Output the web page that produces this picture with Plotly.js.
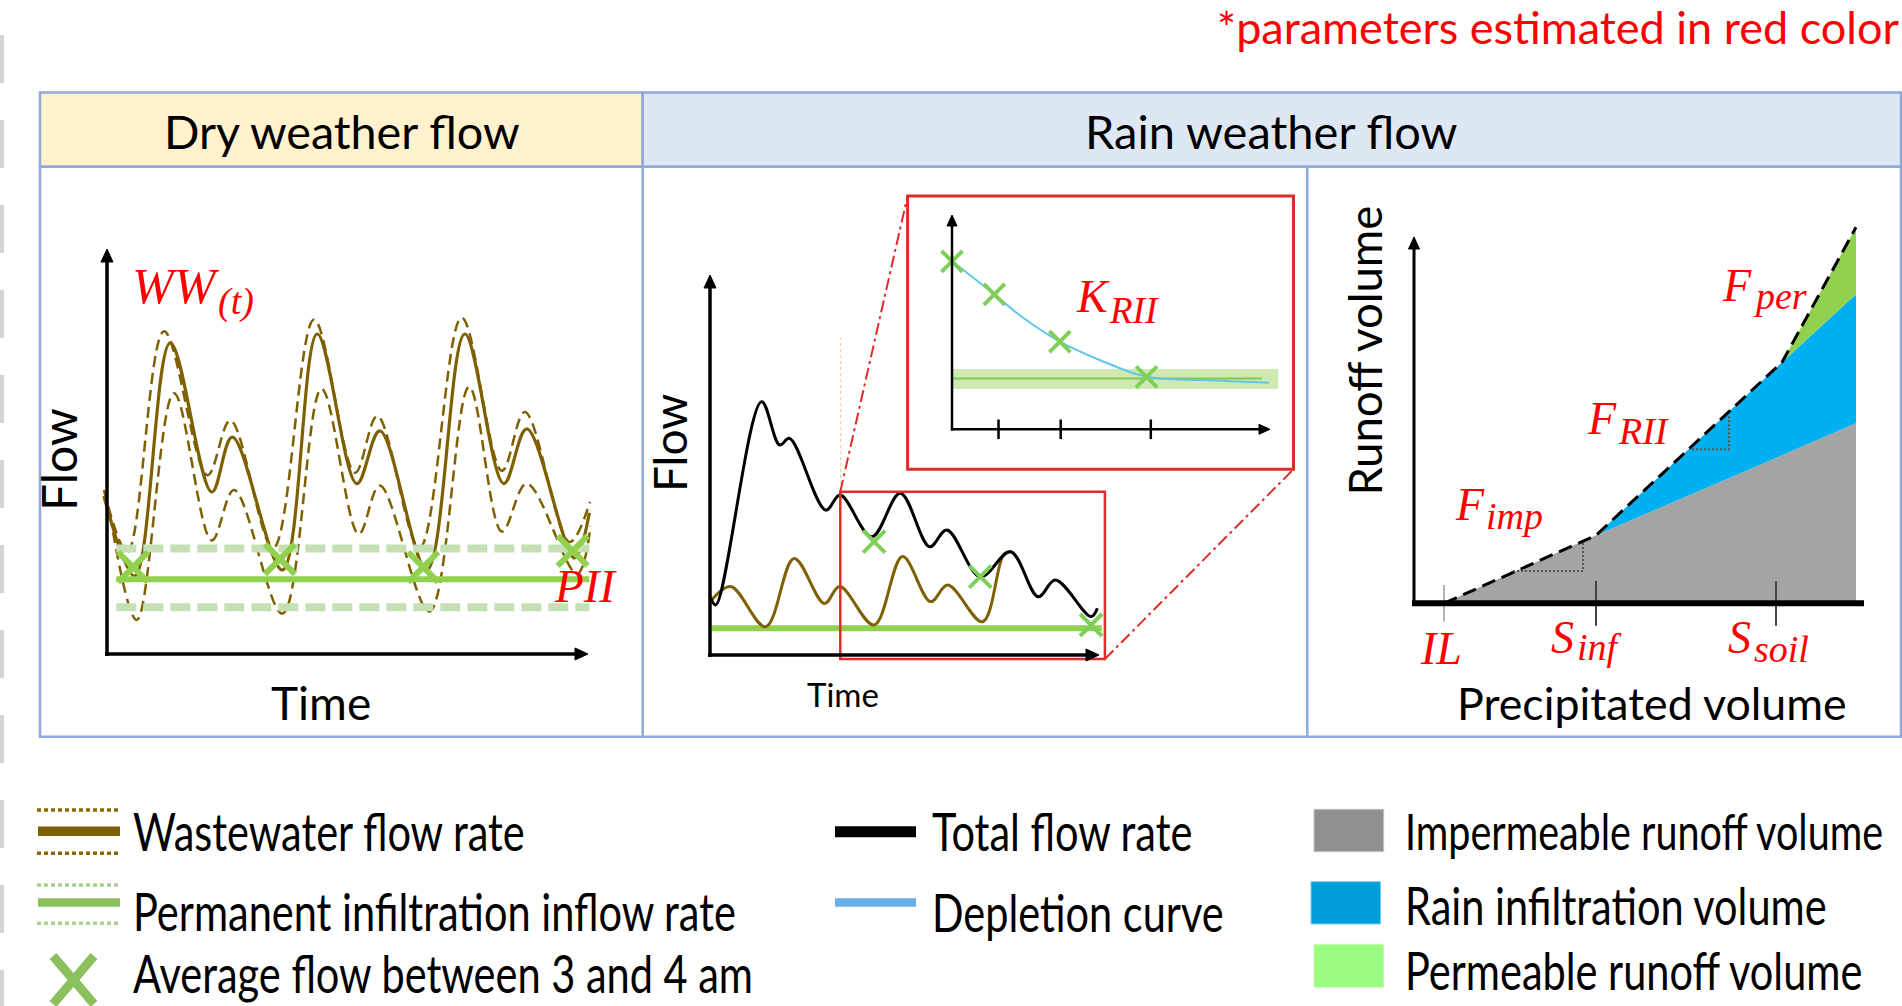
<!DOCTYPE html>
<html><head><meta charset="utf-8">
<script src="https://cdn.plot.ly/plotly-3.0.1.min.js"></script>
<style>html,body{margin:0;padding:0;background:#fff;overflow:hidden}#chart{width:1902px;height:1006px}</style>
</head><body><div id="chart"></div>
<script>
// ================= DATA =================
// Panel 1 - dry weather flow (time in hours, flow in arbitrary units)
const dryTime      = [-0.5, 4.5, 10.2, 16.9, 20.2, 28.3, 33.9, 40.3, 44.0, 51.6, 57.7, 64.0, 67.7, 75.4, 77.8];
const dryFlow      = [39.5, 19.5, 77.8, 40.5, 54.2, 21.0, 80.0, 42.6, 55.8, 21.0, 80.0, 42.6, 56.3, 24.0, 35.3];
const dryTimeHigh  = [-0.5, 3.3, 9.2, 16.2, 19.9, 26.8, 33.4, 40.0, 43.6, 50.4, 57.2, 63.7, 67.4, 74.6, 77.9];
const dryFlowHigh  = [41.0, 25.5, 80.7, 44.7, 58.4, 26.5, 83.6, 45.3, 59.5, 26.5, 84.1, 45.8, 60.5, 28.0, 38.0];
const dryTimeLow   = [0.5, 4.8, 10.8, 16.9, 20.5, 28.3, 34.6, 40.6, 44.0, 52.0, 58.4, 63.7, 67.7, 75.8, 78.0];
const dryFlowLow   = [34.7, 8.5, 65.2, 28.4, 41.0, 10.1, 66.3, 30.0, 42.1, 10.6, 66.8, 30.6, 42.6, 20.0, 32.0];
const piiSpan      = [1.5, 77.8];
const piiLevel     = 18.7;
const piiBand      = [11.7, 26.4];
const nightTime    = [4.2, 27.9, 51.0, 75.1];
const nightFlow    = [21.7, 23.7, 21.7, 25.8];

// Panel 2 - rain weather flow hydrograph (time in hours)
const rainTime     = [0, 1.3, 11.4, 15.4, 17.6, 25.6, 28.8, 35.8, 42.1, 48.6, 52.4, 59.8, 66.5, 72.6, 76.4, 84.3, 85.7];
const totalFlow    = [19.4, 16.7, 84.4, 70.0, 72.2, 48.3, 53.3, 39.4, 53.9, 36.1, 41.7, 26.1, 34.4, 19.4, 25.0, 12.8, 15.6];
const wwRainTime   = [0.35, 4.6, 12.3, 18.6, 25.3, 28.7, 36.3, 42.6, 48.8, 52.6, 60.3, 65.0, 66.5];
const wwRainFlow   = [18.3, 22.8, 9.4, 32.2, 17.2, 22.8, 10.0, 32.8, 17.8, 23.3, 11.1, 33.6, 34.4];
const rainNightTime = [36.3, 59.8, 84.3];
const rainNightFlow = [37.8, 26.1, 10.0];
const rainPiiSpan  = [0.35, 86.7];
const rainPii      = 8.9;
const recessionStart = 28.9;
const recessionFlowSpan = [55, 105.7];

// Inset - depletion curve (time in days)
const depletionTime = [0, 1.0, 1.65, 2.55, 3.49, 4.6, 5.95, 7.49];
const depletionFlow = [56.0, 45.0, 37.5, 29.2, 23.1, 17.5, 16.4, 15.5];
const insetNightTime = [0, 1.0, 2.55, 4.6];
const insetNightFlow = [56.0, 45.0, 29.2, 17.5];
const insetTicks    = [1.1, 2.57, 4.7];
const insetPii      = 16.9;
const insetPiiSpan  = [0, 7.33];
const insetBand     = [13.4, 20.1];
const insetBandSpan = [0, 7.71];

// Panel 3 - runoff volume vs precipitated volume
const precip        = [3.0, 18.2, 36.8, 44.2];
const runoffImp     = [0, 6.8, 14.8, 18.0];
const runoffImpRii  = [0, 6.8, 24.1, 30.9];
const runoffTotal   = [0, 6.8, 24.1, 37.6];
const paramNames    = ['IL', 'Sinf', 'Ssoil'];
const paramPrecip   = [3.0, 18.2, 36.2];
const slopeImpX     = [9.9, 16.9, 16.9];
const slopeImpY     = [3.24, 3.24, 6.08];
const slopeRiiX     = [27.8, 31.5, 31.5];
const slopeRiiY     = [15.4, 15.4, 18.9];

// Legend labels
const legendCol1 = ['Wastewater flow rate', 'Permanent infiltration inflow rate', 'Average flow between 3 and 4 am'];
const legendCol2 = ['Total flow rate', 'Depletion curve'];
const legendCol3 = ['Impermeable runoff volume', 'Rain infiltration volume', 'Permeable runoff volume'];

// ================= LAYOUT HELPERS =================
const W = 1902, H = 1006;
const PX = x => x / W, PY = y => 1 - y / H;
function xAx(a, b, origin, scale, anchor) {
  return {domain: [a / W, b / W], range: [(a - origin) / scale, (b - origin) / scale],
          visible: false, fixedrange: true, anchor: anchor};
}
function yAx(top, bottom, origin, scale, anchor) {
  return {domain: [1 - bottom / H, 1 - top / H], range: [(origin - bottom) / scale, (origin - top) / scale],
          visible: false, fixedrange: true, anchor: anchor};
}
function pline(x0, y0, x1, y1, color, width, dash, layer) {
  return {type: 'line', xref: 'paper', yref: 'paper', x0: PX(x0), y0: PY(y0), x1: PX(x1), y1: PY(y1),
          line: {color: color, width: width, dash: dash || 'solid'}, layer: layer || 'above'};
}
function prect(x0, y0, x1, y1, fill, color, width, layer) {
  return {type: 'rect', xref: 'paper', yref: 'paper', x0: PX(x0), y0: PY(y0), x1: PX(x1), y1: PY(y1),
          fillcolor: fill, line: {color: color || 'rgba(0,0,0,0)', width: width || 0}, layer: layer || 'below'};
}
function arrowShapes(tipX, tipY, tailX, tailY, width, hw, hl) {
  const dx = tipX - tailX, dy = tipY - tailY, len = Math.hypot(dx, dy);
  const ux = dx / len, uy = dy / len, nx = -uy, ny = ux;
  const bx = tipX - ux * hl, by = tipY - uy * hl;
  const f = v => v.toFixed(6);
  return [
    pline(tailX, tailY, tipX - ux * (hl - 2), tipY - uy * (hl - 2), '#000', width),
    {type: 'path', xref: 'paper', yref: 'paper', layer: 'above', fillcolor: '#000', line: {color: '#000', width: 1},
     path: 'M' + f(PX(tipX)) + ',' + f(PY(tipY)) + ' L' + f(PX(bx + nx * hw)) + ',' + f(PY(by + ny * hw)) +
           ' L' + f(PX(bx - nx * hw)) + ',' + f(PY(by - ny * hw)) + ' Z'}
  ];
}
const SANS = 'Lato, "Open Sans", sans-serif';
const SERIF = '"Liberation Serif", "DejaVu Serif", serif';
function label(text, x, y, size, o) {
  return Object.assign({xref: 'paper', yref: 'paper', x: PX(x), y: PY(y), text: text, showarrow: false,
    xanchor: 'center', yanchor: 'middle', font: {family: SANS, size: size, color: '#000'}}, o || {});
}
function mathLabel(text, x, y, size) {
  return {xref: 'paper', yref: 'paper', x: PX(x), y: PY(y), text: text, showarrow: false, borderpad: 0,
    xanchor: 'left', yanchor: 'middle', font: {family: SERIF, size: size, color: '#ff0000', style: 'italic'}};
}

const BROWN = '#7f6000', GREEN = '#92d050', LIGHTGREEN = '#c5e0b4', RED = '#e02b2b';
const base = {hoverinfo: 'skip', showlegend: false};

// ================= TRACES =================
const traces = [
  // ---- panel 1
  Object.assign({}, base, {x: dryTimeLow, y: dryFlowLow, mode: 'lines', xaxis: 'x', yaxis: 'y',
    line: {color: BROWN, width: 2.5, dash: '11px,6px', shape: 'spline', smoothing: 1}}),
  Object.assign({}, base, {x: dryTimeHigh, y: dryFlowHigh, mode: 'lines', xaxis: 'x', yaxis: 'y',
    line: {color: BROWN, width: 2.5, dash: '11px,6px', shape: 'spline', smoothing: 1}}),
  Object.assign({}, base, {x: dryTime, y: dryFlow, mode: 'lines', xaxis: 'x', yaxis: 'y',
    line: {color: BROWN, width: 3.2, shape: 'spline', smoothing: 1}}),
  Object.assign({}, base, {x: piiSpan, y: [piiBand[1], piiBand[1]], mode: 'lines', xaxis: 'x', yaxis: 'y',
    line: {color: LIGHTGREEN, width: 8, dash: '20px,7px'}}),
  Object.assign({}, base, {x: piiSpan, y: [piiBand[0], piiBand[0]], mode: 'lines', xaxis: 'x', yaxis: 'y',
    line: {color: LIGHTGREEN, width: 8, dash: '20px,7px'}}),
  Object.assign({}, base, {x: piiSpan, y: [piiLevel, piiLevel], mode: 'lines', xaxis: 'x', yaxis: 'y',
    line: {color: GREEN, width: 6}}),
  Object.assign({}, base, {x: nightTime, y: nightFlow, mode: 'markers', xaxis: 'x', yaxis: 'y', cliponaxis: false,
    marker: {symbol: 'x-thin', size: 30, line: {color: GREEN, width: 6}}}),

  // ---- panel 2
  Object.assign({}, base, {x: rainPiiSpan, y: [rainPii, rainPii], mode: 'lines', xaxis: 'x2', yaxis: 'y2',
    line: {color: GREEN, width: 6}}),
  Object.assign({}, base, {x: [recessionStart, recessionStart], y: recessionFlowSpan, mode: 'lines', xaxis: 'x2', yaxis: 'y2',
    line: {color: '#f3d6a4', width: 1.5, dash: 'dot'}}),
  Object.assign({}, base, {x: wwRainTime, y: wwRainFlow, mode: 'lines', xaxis: 'x2', yaxis: 'y2',
    line: {color: BROWN, width: 3, shape: 'spline', smoothing: 1}}),
  Object.assign({}, base, {x: rainTime, y: totalFlow, mode: 'lines', xaxis: 'x2', yaxis: 'y2',
    line: {color: '#000', width: 3, shape: 'spline', smoothing: 1}}),
  Object.assign({}, base, {x: rainNightTime, y: rainNightFlow, mode: 'markers', xaxis: 'x2', yaxis: 'y2', cliponaxis: false,
    marker: {symbol: 'x-thin', size: 22, line: {color: '#7fd05a', width: 4}}}),

  // ---- inset
  Object.assign({}, base, {x: insetBandSpan, y: [insetBand[0], insetBand[0]], mode: 'lines', xaxis: 'x3', yaxis: 'y3',
    line: {width: 0, color: 'rgba(0,0,0,0)'}}),
  Object.assign({}, base, {x: insetBandSpan, y: [insetBand[1], insetBand[1]], mode: 'lines', xaxis: 'x3', yaxis: 'y3',
    line: {width: 0, color: 'rgba(0,0,0,0)'}, fill: 'tonexty', fillcolor: 'rgba(146,208,80,0.45)'}),
  Object.assign({}, base, {x: insetPiiSpan, y: [insetPii, insetPii], mode: 'lines', xaxis: 'x3', yaxis: 'y3',
    line: {color: '#84c94c', width: 2}}),
  Object.assign({}, base, {x: depletionTime, y: depletionFlow, mode: 'lines', xaxis: 'x3', yaxis: 'y3',
    line: {color: '#62c6ea', width: 2, shape: 'spline', smoothing: 1}}),
  Object.assign({}, base, {x: insetNightTime, y: insetNightFlow, mode: 'markers', xaxis: 'x3', yaxis: 'y3', cliponaxis: false,
    marker: {symbol: 'x-thin', size: 21, line: {color: '#7fd05a', width: 4}}}),
  Object.assign({}, base, {x: insetTicks, y: insetTicks.map(() => 0), mode: 'markers', xaxis: 'x3', yaxis: 'y3', cliponaxis: false,
    marker: {symbol: 'line-ns', size: 14, line: {color: '#000', width: 2.5}}}),

  // ---- panel 3
  Object.assign({}, base, {x: precip, y: runoffImp, mode: 'lines', xaxis: 'x4', yaxis: 'y4',
    line: {width: 0, color: 'rgba(0,0,0,0)'}, fill: 'tozeroy', fillcolor: '#a4a4a4'}),
  Object.assign({}, base, {x: precip, y: runoffImpRii, mode: 'lines', xaxis: 'x4', yaxis: 'y4',
    line: {width: 0, color: 'rgba(0,0,0,0)'}, fill: 'tonexty', fillcolor: '#00b0f0'}),
  Object.assign({}, base, {x: precip, y: runoffTotal, mode: 'lines', xaxis: 'x4', yaxis: 'y4',
    line: {width: 0, color: 'rgba(0,0,0,0)'}, fill: 'tonexty', fillcolor: '#92d050'}),
  Object.assign({}, base, {x: precip, y: runoffTotal, mode: 'lines', xaxis: 'x4', yaxis: 'y4',
    line: {color: '#000', width: 3, dash: '14px,7px'}}),
  Object.assign({}, base, {x: slopeImpX, y: slopeImpY, mode: 'lines', xaxis: 'x4', yaxis: 'y4',
    line: {color: '#555', width: 2, dash: '2px,2px'}}),
  Object.assign({}, base, {x: slopeRiiX, y: slopeRiiY, mode: 'lines', xaxis: 'x4', yaxis: 'y4',
    line: {color: '#555', width: 2, dash: '2px,2px'}}),
  Object.assign({}, base, {x: paramPrecip.slice(1), y: [0, 0], mode: 'markers', xaxis: 'x4', yaxis: 'y4', cliponaxis: false,
    marker: {symbol: 'line-ns', size: 32, line: {color: '#444', width: 2}}}),
  Object.assign({}, base, {x: paramPrecip.slice(0, 1), y: [0], mode: 'markers', xaxis: 'x4', yaxis: 'y4', cliponaxis: false,
    marker: {symbol: 'line-ns', size: 26, line: {color: '#999', width: 1.5}}})
];

// ================= SHAPES =================
const FRAME = '#8eaadb';
const shapes = [
  pline(2, 35, 2, 1006, '#d4d4d4', 4, '48px,37px', 'below'),
  prect(40, 92.5, 642.7, 166.7, '#fff2cc', FRAME, 2.5),
  prect(642.7, 92.5, 1901, 166.7, '#dee8f5', FRAME, 2.5),
  prect(40, 166.7, 1901, 736.7, 'rgba(0,0,0,0)', FRAME, 2.5),
  pline(642.7, 166.7, 642.7, 736.7, FRAME, 2.5, 'solid', 'below'),
  pline(1307.3, 166.7, 1307.3, 736.7, FRAME, 2.5, 'solid', 'below'),
  // zoom window + inset frame and connectors
  pline(840.3, 491.7, 907.6, 196, RED, 2, '12px,4px,3px,4px'),
  pline(1104.9, 659, 1293.5, 469.3, RED, 2, '12px,4px,3px,4px'),
  Object.assign(prect(840.3, 491.7, 1104.9, 659, 'rgba(0,0,0,0)', RED, 2.5), {layer: 'above'}),
  Object.assign(prect(907.6, 196, 1293.5, 469.3, 'rgba(0,0,0,0)', RED, 3), {layer: 'above'}),
  // panel 3 x axis
  pline(1412, 603.3, 1864, 603.3, '#000', 6),
  // legend swatches
  pline(37, 810, 119, 810, '#8a6a00', 3.5, '4px,3px'),
  pline(38, 831.3, 120, 831.3, BROWN, 9.5),
  pline(37, 853.3, 119, 853.3, '#8a6a00', 3.5, '4px,3px'),
  pline(37, 885, 119, 885, '#a9d18e', 3.5, '4px,3px'),
  pline(38, 902.5, 120, 902.5, '#8cbf5e', 8.5),
  pline(37, 923.3, 119, 923.3, '#a9d18e', 3.5, '4px,3px'),
  pline(53, 956, 94, 1004, '#8cbf5e', 9),
  pline(94, 956, 53, 1004, '#8cbf5e', 9),
  pline(835, 831.7, 916, 831.7, '#000', 11),
  pline(835, 902.5, 916, 902.5, '#6aaee6', 8.5),
  prect(1314, 809.3, 1383.7, 851.7, '#909090', '#c4c4c4', 1),
  prect(1311, 881.7, 1380.5, 924, '#009ddb', '#7fc8ea', 1),
  prect(1314, 944.3, 1383.7, 987.3, '#9afc7f', '#c8fdb9', 1)
].concat(
  arrowShapes(107, 249, 107, 656, 3.5, 6, 13),
  arrowShapes(588, 654, 105, 654, 3.5, 6, 13),
  arrowShapes(710, 275, 710, 657, 3.5, 6, 13),
  arrowShapes(1099, 655, 708, 655, 3.5, 6, 13),
  arrowShapes(952, 215, 952, 430.5, 2.5, 5, 11),
  arrowShapes(1270, 429.3, 951, 429.3, 2.5, 5, 11),
  arrowShapes(1414, 237, 1414, 604, 3, 5.5, 12)
);

// ================= ANNOTATIONS =================
const annotations = [
  label('*parameters estimated in red color', 1901, 27, 45, {xanchor: 'right', font: {family: SANS, size: 45, color: '#ff0000'}}),
  label('Dry weather flow', 341.5, 131, 46.7),
  label('Rain weather flow', 1271.5, 131, 47),
  label('Flow', 58, 460, 48, {textangle: -90}),
  label('Time', 320.5, 702, 46),
  label('Flow', 669, 443, 46, {textangle: -90}),
  label('Time', 843, 694, 33),
  label('Runoff volume', 1364, 350.5, 45.5, {textangle: -90}),
  label('Precipitated volume', 1651.5, 703, 44.7),
  // red parameter symbols (base letter + subscript)
  mathLabel('WW', 131, 285.8, 50),   mathLabel('(t)', 217, 301, 38),
  mathLabel('PII', 553, 585.6, 47),
  mathLabel('K', 1075, 296.2, 46),   mathLabel('RII', 1108, 310.5, 37),
  mathLabel('F', 1454, 504.5, 46),   mathLabel('imp', 1485, 516, 38),
  mathLabel('F', 1586, 418, 46),     mathLabel('RII', 1617, 431, 38),
  mathLabel('F', 1721, 286, 46),     mathLabel('per', 1752, 296, 38),
  mathLabel('IL', 1419, 648, 46),
  mathLabel('S', 1550, 637.5, 46),   mathLabel('inf', 1576, 647, 38),
  mathLabel('S', 1727, 637.5, 46),   mathLabel('soil', 1753, 649, 38)
];
const stretchStart = annotations.length;
const LEG = 41.5;
annotations.push(
  label(legendCol1[0], 131, 831, LEG, {xanchor: 'left'}),
  label(legendCol1[1], 131, 911, LEG, {xanchor: 'left'}),
  label(legendCol1[2], 131, 973, LEG, {xanchor: 'left'}),
  label(legendCol2[0], 930, 831, LEG, {xanchor: 'left'}),
  label(legendCol2[1], 930, 911.7, LEG, {xanchor: 'left'}),
  label(legendCol3[0], 1403, 830, 39.5, {xanchor: 'left'}),
  label(legendCol3[1], 1403, 905, LEG, {xanchor: 'left'}),
  label(legendCol3[2], 1403, 970, LEG, {xanchor: 'left'})
);

const layout = {
  width: W, height: H, margin: {l: 0, r: 0, t: 0, b: 0, pad: 0},
  paper_bgcolor: '#ffffff', plot_bgcolor: 'rgba(0,0,0,0)', showlegend: false,
  xaxis:  xAx(85, 625, 107, 6.2, 'y'),
  yaxis:  yAx(220, 680, 654, 4, 'x'),
  xaxis2: xAx(695, 1112, 710, 4.52, 'y2'),
  yaxis2: yAx(260, 675, 655, 3, 'x2'),
  xaxis3: xAx(940, 1290, 952, 42.3, 'y3'),
  yaxis3: yAx(205, 445, 429.3, 3, 'x3'),
  xaxis4: xAx(1400, 1880, 1414, 10, 'y4'),
  yaxis4: yAx(200, 640, 603.3, 10, 'x4'),
  shapes: shapes, annotations: annotations
};

Plotly.newPlot('chart', traces, layout, {staticPlot: true, displayModeBar: false}).then(function () {
  document.querySelectorAll('#chart g.annotation').forEach(function (g) {
    const i = +g.getAttribute('data-index');
    if (i >= stretchStart) {
      const t = g.querySelector('text.annotation-text');
      if (t) {
        t.style.transformBox = 'fill-box';
        t.style.transformOrigin = '50% 50%';
        t.style.transform = 'scaleY(1.28)';
      }
    }
  });
});
</script>
</body></html>
